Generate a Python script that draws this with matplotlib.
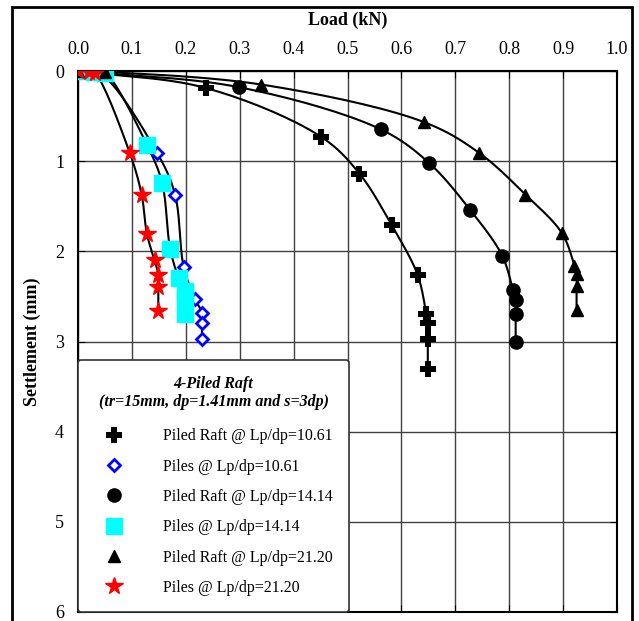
import matplotlib
matplotlib.use('Agg')
import matplotlib.pyplot as plt
from matplotlib.lines import Line2D
from matplotlib.patches import Rectangle
import numpy as np

plt.rcParams['font.family'] = ['Liberation Serif', 'DejaVu Serif']

# Piled raft, Lp/dp = 10.61
raft_1061_load = [0.0, 0.238, 0.451, 0.522, 0.582, 0.630, 0.646, 0.649, 0.649, 0.649]
raft_1061_sett = [0.0, 0.19, 0.73, 1.137, 1.71, 2.26, 2.69, 2.80, 2.97, 3.30]
# Piles, Lp/dp = 10.61
piles_1061_load = [0.0, 0.04, 0.147, 0.180, 0.196, 0.217, 0.230, 0.230, 0.230]
piles_1061_sett = [0.0, 0.02, 0.91, 1.37, 2.17, 2.53, 2.68, 2.80, 2.97]
# Piled raft, Lp/dp = 14.14
raft_1414_load = [0.0, 0.299, 0.562, 0.651, 0.728, 0.787, 0.807, 0.812, 0.812, 0.812]
raft_1414_sett = [0.0, 0.18, 0.648, 1.018, 1.544, 2.048, 2.43, 2.54, 2.70, 3.01]
# Piles, Lp/dp = 14.14
piles_1414_load = [0.0, 0.03, 0.05, 0.128, 0.156, 0.171, 0.187, 0.199, 0.199, 0.199]
piles_1414_sett = [0.0, 0.01, 0.02, 0.82, 1.24, 1.97, 2.30, 2.44, 2.54, 2.70]
# Piled raft, Lp/dp = 21.20
raft_2120_load = [0.0, 0.05, 0.340, 0.642, 0.744, 0.830, 0.898, 0.921, 0.925, 0.925, 0.925]
raft_2120_sett = [0.0, 0.01, 0.15, 0.567, 0.907, 1.37, 1.80, 2.16, 2.25, 2.39, 2.65]
# Piles, Lp/dp = 21.20
piles_2120_load = [0.0, 0.02, 0.031, 0.096, 0.118, 0.128, 0.142, 0.149, 0.149, 0.149]
piles_2120_sett = [0.0, 0.01, 0.02, 0.907, 1.37, 1.81, 2.10, 2.26, 2.40, 2.66]

labels = ['Piled Raft @ Lp/dp=10.61', 'Piles @ Lp/dp=10.61',
          'Piled Raft @ Lp/dp=14.14', 'Piles @ Lp/dp=14.14',
          'Piled Raft @ Lp/dp=21.20', 'Piles @ Lp/dp=21.20']


def smooth(xs, ys, n=20):
    # centripetal catmull-rom, only for drawing the connecting line
    pts = np.column_stack([xs, ys]).astype(float)
    p = np.vstack([2 * pts[0] - pts[1], pts, 2 * pts[-1] - pts[-2]])
    sc = np.array([1.0, 1 / 6.0])

    def d(a, b):
        return max(np.linalg.norm((b - a) * sc) ** 0.5, 1e-6)

    out = []
    for i in range(1, len(p) - 2):
        p0, p1, p2, p3 = p[i - 1], p[i], p[i + 1], p[i + 2]
        if np.allclose(p1, p2):
            continue
        t0 = 0
        t1 = t0 + d(p0, p1)
        t2 = t1 + d(p1, p2)
        t3 = t2 + d(p2, p3)
        t = np.linspace(t1, t2, n)[:, None]
        a1 = (t1 - t) / (t1 - t0) * p0 + (t - t0) / (t1 - t0) * p1
        a2 = (t2 - t) / (t2 - t1) * p1 + (t - t1) / (t2 - t1) * p2
        a3 = (t3 - t) / (t3 - t2) * p2 + (t - t2) / (t3 - t2) * p3
        b1 = (t2 - t) / (t2 - t0) * a1 + (t - t0) / (t2 - t0) * a2
        b2 = (t3 - t) / (t3 - t1) * a2 + (t - t1) / (t3 - t1) * a3
        out.append((t2 - t) / (t2 - t1) * b1 + (t - t1) / (t2 - t1) * b2)
    c = np.vstack(out)
    return c[:, 0], c[:, 1]


styles = [
    dict(marker='P', ms=12, mec='black', mfc='black', mew=0),
    dict(marker='D', ms=6, mec='blue', mfc='white', mew=2),
    dict(marker='o', ms=9.5, mec='black', mfc='black'),
    dict(marker='s', ms=11, mec='cyan', mfc='cyan'),
    dict(marker='^', ms=8, mec='black', mfc='black'),
    dict(marker='*', ms=13, mec='red', mfc='red'),
]
series = [(raft_1061_load, raft_1061_sett), (piles_1061_load, piles_1061_sett),
          (raft_1414_load, raft_1414_sett), (piles_1414_load, piles_1414_sett),
          (raft_2120_load, raft_2120_sett), (piles_2120_load, piles_2120_sett)]

fig = plt.figure(figsize=(6.39, 6.21), dpi=100)
ax = fig.add_axes([78 / 639, 1 - 612 / 621, (617 - 78) / 639, (612 - 71) / 621])

for xs, ys in series:
    lx, ly = smooth(xs, ys)
    ax.plot(lx, ly, color='black', lw=1.5, zorder=3)
for (xs, ys), st in zip(series, styles):
    ax.plot(xs, ys, linestyle='none', zorder=4, **st)

ax.set_xlim(0, 1.0)
ax.set_ylim(6, 0)
ticks = np.arange(0, 1.01, 0.1)
ax.set_xticks(ticks)
ax.set_xticklabels(['%.1f' % v for v in ticks])
ax.set_yticks(range(7))
ax.xaxis.tick_top()
ax.xaxis.set_label_position('top')
ax.tick_params(direction='in', labelsize=13, length=5, top=True, right=True, bottom=True, left=True)
ax.tick_params(axis='x', pad=9)
ax.tick_params(axis='y', pad=10)
ax.grid(True, color='#404040', lw=1)
for s in ax.spines.values():
    s.set_linewidth(1.5)
ax.set_xlabel('Load (kN)', fontsize=13, fontweight='bold', labelpad=12)
ax.set_ylabel('Settlement (mm)', fontsize=13, fontweight='bold', labelpad=10)

handles = [Line2D([], [], linestyle='none', **st) for st in styles]
leg = ax.legend(handles, labels, loc='lower left', bbox_to_anchor=(0.0, 0.0),
                fontsize=11.5, frameon=True, fancybox=True, alignment='center',
                title='4-Piled Raft\n(tr=15mm, dp=1.41mm and s=3dp)',
                title_fontproperties={'weight': 'bold', 'style': 'italic', 'size': 11.5},
                handletextpad=1.85, labelspacing=0.9, borderpad=1.0, borderaxespad=0.0,
                handlelength=2.5)
leg._legend_box.sep = 13
leg.get_title().set_multialignment('center')
leg.get_frame().set_edgecolor('#333333')
leg.get_frame().set_linewidth(1.2)
leg.get_frame().set_alpha(1)
leg.set_zorder(10)

fig.patches.append(Rectangle((12 / 639, -0.01), (632 - 12) / 639, 1 - 7 / 621 + 0.01,
                             transform=fig.transFigure, fill=False, lw=2, edgecolor='black'))

fig.savefig('out.png', dpi=100)
